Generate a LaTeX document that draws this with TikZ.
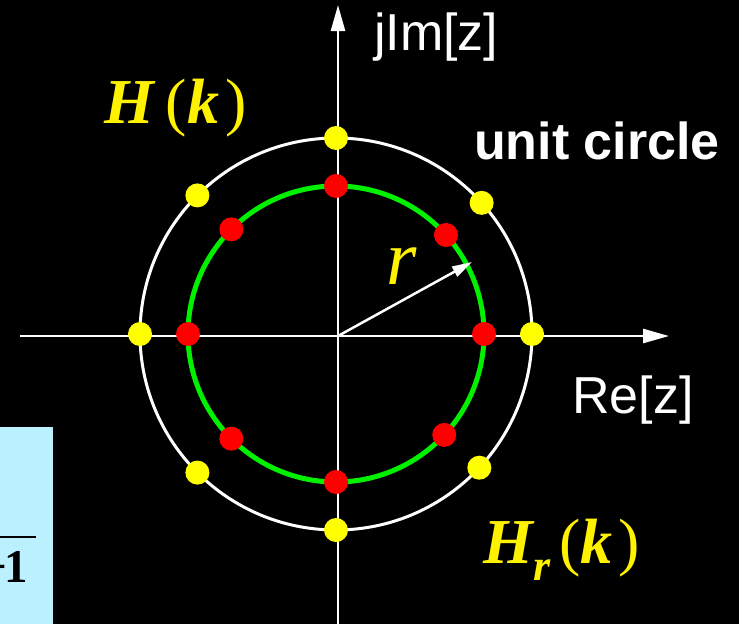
\documentclass[tikz,border=0pt]{standalone}
\usepackage{fontspec}
\setmainfont{Liberation Serif}
\setsansfont{Liberation Sans}
\usetikzlibrary{arrows.meta}

\definecolor{boxblue}{RGB}{187,240,255}
\definecolor{dotyellow}{RGB}{255,255,0}
\definecolor{dotred}{RGB}{255,0,0}
\definecolor{ringgreen}{RGB}{0,240,0}

\begin{document}
\begin{tikzpicture}[x=1pt, y=-1pt,
  axis/.style={white, line width=2.5pt, -{Triangle[length=26pt, width=14pt]}},
  dot/.style={circle, inner sep=0pt, minimum size=24pt},
  sanslabel/.style={white, font=\sffamily\fontsize{52}{60}\selectfont},
  hlabel/.style={yellow, font=\bfseries\itshape\fontsize{64}{72}\selectfont}]
  \fill[black] (0,0) rectangle (739,624);
  \useasboundingbox (0,0) rectangle (739,624);

  % cut-off formula box
  \begin{scope}
    \clip (0,427) rectangle (53,624);
    \fill[boxblue] (0,427) rectangle (53,624);
    \draw[black, line width=2pt] (0,537) -- (36,537);
    \node[anchor=base east, inner sep=0pt, font=\bfseries\fontsize{47}{50}\selectfont] (den) at (28,582) {−\hspace{-3pt}1};
  \end{scope}

  \coordinate (C) at (336,334);
  \coordinate (O) at (338,336);
  \coordinate (xs) at (20,336);
  \coordinate (xe) at (669,336);
  \coordinate (ys) at (338,624);
  \coordinate (ye) at (338,5);
  \coordinate (rtip) at (472,262);

  \draw[white, line width=3pt] (C) circle (196pt);
  \draw[ringgreen, line width=5pt] (C) circle (148pt);
  \draw[axis] (xs) -- (xe);
  \draw[axis] (ys) -- (ye);
  \draw[white, line width=2.5pt, -{Triangle[length=20pt, width=11pt]}] (O) -- (rtip);

  \foreach \a in {0,42,90,135,180,225,270,317} {
    \node[dot, fill=dotyellow] (y\a) at ([shift={(\a:196pt)}]C) {};
    \node[dot, fill=dotred] (r\a) at ([shift={(\a:148pt)}]C) {};
  }

  \node[sanslabel, anchor=base west, inner sep=0pt] (im) at (374,50) {jIm[z]};
  \node[sanslabel, anchor=base west, inner sep=0pt] (re) at (572,413) {Re[z]};
  \node[sanslabel, anchor=base west, inner sep=0pt, font=\sffamily\bfseries\fontsize{52}{60}\selectfont] (unit) at (474,159) {unit circle};
  \node[yellow, anchor=base west, inner sep=0pt, font=\itshape\fontsize{78}{80}\selectfont] (rlabel) at (386,284) {r};
  \node[hlabel, anchor=base west, inner sep=0pt] (hk) at (104,123) {H\hspace{12pt}{\mdseries\upshape(}k\hspace{6pt}{\mdseries\upshape)}};
  \node[hlabel, anchor=base west, inner sep=0pt] (hrk) at (483,563) {H\hspace{1pt}\raisebox{-17pt}{\fontsize{44}{48}\selectfont r}\hspace{8pt}{\mdseries\upshape(}k\hspace{6pt}{\mdseries\upshape)}};
\end{tikzpicture}
\end{document}
